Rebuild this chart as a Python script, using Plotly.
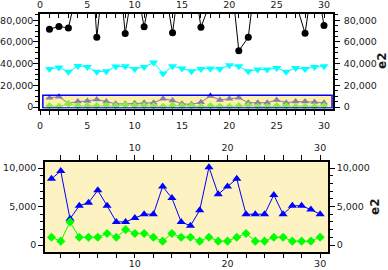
import plotly.graph_objects as go

# ---------------- data ----------------
x_idx = list(range(1, 31))
series_circle = [71600, 74300, 72800, 111000, 200000, 64200, 144000, 158000, 67800, 120000,
                 74000, 117000, 119000, 68400, 135000, 134000, 73400, 102000, 120000, 136000,
                 51900, 64200, 136000, 120000, 120000, 120000, 97000, 67900, 128000, 75000]
series_tri_down = [35000, 36500, 32500, 37800, 37000, 32500, 33000, 37300, 37500, 35000,
                   37000, 41000, 31000, 37500, 35500, 33000, 35000, 35500, 35000, 38500,
                   37500, 33000, 34500, 34500, 36000, 32500, 36000, 35000, 37000, 37500]
series_tri_up = [8600, 9600, 3400, 5100, 5500, 7100, 5100, 3000, 3000, 3500,
                 4000, 4000, 7600, 6100, 3000, 2500, 4500, 10100, 6600, 7600,
                 8600, 4000, 4000, 4000, 6500, 4000, 5100, 5100, 4600, 4000]
series_diamond = [1000, 500, 3000, 1000, 1000, 1000, 1500, 1000, 2000, 1500,
                  1500, 1000, 500, 1500, 1000, 1000, 500, 1000, 500, 500,
                  1000, 1500, 500, 500, 1000, 1000, 500, 500, 500, 1000]

overview_x_range = [0, 30.95]
overview_y_range = [-1300, 85700]
zoom_x_range = [0.3, 30.85]
zoom_y_range = [-870, 10820]
axis_title = "e2"

# ---------------- styling ----------------
FONT = "DejaVu Sans"
INK = "#1a1a1a"
ZOOM_BG = "#FCF2C2"
OVERLAY = "rgba(250,228,100,0.55)"

fig = go.Figure()

def line_trace(y, xa, ya, color, symbol, size, lw=1):
    return go.Scatter(x=x_idx, y=y, xaxis=xa, yaxis=ya, mode="lines+markers",
                      line=dict(color=color, width=lw),
                      marker=dict(symbol=symbol, size=size, color=color),
                      showlegend=False, cliponaxis=True, hoverinfo="skip")

# overview panel
fig.add_trace(line_trace(series_circle, "x", "y", "#000000", "circle", 7))
fig.add_trace(line_trace(series_tri_down, "x", "y", "#00FFFF", "triangle-down", 8))
fig.add_trace(line_trace(series_tri_up, "x", "y", "#0000FF", "triangle-up", 7))
fig.add_trace(line_trace(series_diamond, "x", "y", "#00FF00", "diamond", 6))
# empty traces to activate mirrored label axes
fig.add_trace(go.Scatter(x=[], y=[], xaxis="x2", yaxis="y", showlegend=False))
fig.add_trace(go.Scatter(x=[], y=[], xaxis="x", yaxis="y2", showlegend=False))

# zoom panel
fig.add_trace(line_trace(series_tri_up, "x3", "y3", "#0000FF", "triangle-up", 8))
fig.add_trace(line_trace(series_diamond, "x3", "y3", "#00FF00", "diamond", 7))
fig.add_trace(go.Scatter(x=[], y=[], xaxis="x4", yaxis="y3", showlegend=False))
fig.add_trace(go.Scatter(x=[], y=[], xaxis="x3", yaxis="y4", showlegend=False))

W, H = 388, 270
top_dom_x = [40 / W, 333 / W]
top_dom_y = [(H - 108.5) / H, (H - 14) / H]
bot_dom_x = [45 / W, 328 / W]
bot_dom_y = [(H - 251.7) / H, (H - 161.7) / H]

def ax(**kw):
    base = dict(showgrid=False, zeroline=False, showline=True, linecolor="#000000",
                linewidth=1.5, tickcolor="#000000", tickwidth=1, automargin=False,
                color=INK)
    base.update(kw)
    return base

top_tick_font = dict(family=FONT, size=9.5, color=INK)
top_xtick_font = dict(family=FONT, size=9.5, color=INK)
bot_tick_font = dict(family=FONT, size=9.5, color=INK)

fig.update_layout(
    width=W, height=H, autosize=False,
    margin=dict(l=0, r=0, t=0, b=0),
    paper_bgcolor="white", plot_bgcolor="rgba(0,0,0,0)",
    xaxis=ax(domain=top_dom_x, anchor="y", side="bottom", range=overview_x_range,
             ticks="outside", ticklen=5, dtick=5, tick0=0, tickfont=top_xtick_font,
             ticklabelstandoff=2,
             minor=dict(dtick=1, ticks="outside", ticklen=5, tickcolor="#000000")),
    xaxis2=ax(overlaying="x", anchor="y", side="top", range=overview_x_range,
              ticks="inside", ticklen=4, dtick=5, tick0=0, tickfont=top_xtick_font,
              minor=dict(dtick=1, ticks="inside", ticklen=4, tickcolor="#000000")),
    yaxis=ax(domain=top_dom_y, anchor="x", side="left", range=overview_y_range,
             ticks="outside", ticklen=5, dtick=20000, tickformat=",d", tickfont=top_tick_font,
             ticklabelstandoff=-2,
             minor=dict(dtick=5000, ticks="outside", ticklen=3, tickcolor="#000000")),
    yaxis2=ax(overlaying="y", anchor="x", side="right", range=overview_y_range,
              ticks="outside", ticklen=5, dtick=20000, tickformat=",d", tickfont=top_tick_font,
              ticklabelstandoff=2,
              minor=dict(dtick=5000, ticks="outside", ticklen=3, tickcolor="#000000")),
    xaxis3=ax(domain=bot_dom_x, anchor="y3", side="bottom", range=zoom_x_range,
              ticks="outside", ticklen=5, dtick=10, tick0=0, tickfont=bot_tick_font,
              ticklabelstandoff=-3,
              minor=dict(dtick=2, ticks="outside", ticklen=5, tickcolor="#000000")),
    xaxis4=ax(overlaying="x3", anchor="y3", side="top", range=zoom_x_range,
              ticks="outside", ticklen=5, dtick=10, tick0=0, tickfont=bot_tick_font,
              minor=dict(dtick=2, ticks="outside", ticklen=5, tickcolor="#000000")),
    yaxis3=ax(domain=bot_dom_y, anchor="x3", side="left", range=zoom_y_range,
              ticks="outside", ticklen=5, dtick=5000, tickformat=",d", tickfont=bot_tick_font,
              minor=dict(dtick=1000, ticks="outside", ticklen=3, tickcolor="#000000")),
    yaxis4=ax(overlaying="y3", anchor="x3", side="right", range=zoom_y_range,
              ticks="outside", ticklen=5, dtick=5000, tickformat=",d", tickfont=bot_tick_font,
              minor=dict(dtick=1000, ticks="outside", ticklen=3, tickcolor="#000000")),
)

# zoom panel background
fig.add_shape(type="rect", xref="x3 domain", yref="y3 domain", x0=0, x1=1, y0=0, y1=1,
              fillcolor=ZOOM_BG, line=dict(width=0), layer="below")
# zoom window indicator on overview
fig.add_shape(type="rect", xref="x", yref="y",
              x0=zoom_x_range[0], x1=zoom_x_range[1], y0=zoom_y_range[0], y1=zoom_y_range[1],
              fillcolor=OVERLAY, line=dict(color="#0000FF", width=1.5), layer="above")

for xp, yp in [(382, 61), (375, 207)]:
    fig.add_annotation(text="<b>" + axis_title + "</b>", xref="paper", yref="paper",
                       x=xp / W, y=(H - yp) / H, showarrow=False, textangle=-90,
                       font=dict(family=FONT, size=12, color=INK),
                       xanchor="center", yanchor="middle")

fig.write_html("out.html", config={"displayModeBar": False},
               post_script="document.body.style.margin='0';document.body.style.overflow='hidden';")
